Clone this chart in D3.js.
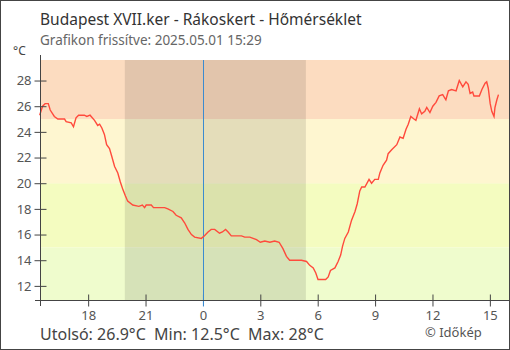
<!DOCTYPE html>
<html><head><meta charset="utf-8">
<script src="https://cdn.jsdelivr.net/npm/d3@7"></script>
<style>
html,body{margin:0;padding:0;background:#fff;}
text{font-family:"Noto Sans",sans-serif;}
</style></head>
<body><svg id="c" width="510" height="350"></svg>
<script>
const title = "Budapest XVII.ker - Rákoskert - Hőmérséklet";
const subtitle = "Grafikon frissítve: 2025.05.01 15:29";
const footer = "Utolsó: 26.9°C  Min: 12.5°C  Max: 28°C";
const credit = "© Időkép";
const unit = "°C";
const xDomain = ["2025-04-30 15:29", "2025-05-01 16:00"];
const yDomain = [10.9, 29.6];
const yTicks = [12, 14, 16, 18, 20, 22, 24, 26, 28];
const night = ["2025-04-30 19:55", "2025-05-01 05:23"];
const bandEdges = [10.9, 15, 20, 25, 29.6];
const bandColors = ["#effccd", "#f4fcc0", "#fef6d0", "#fcdcc0"];
const times = [
"2025-04-30 15:28","2025-04-30 15:37","2025-04-30 15:45","2025-04-30 15:55","2025-04-30 16:01","2025-04-30 16:14","2025-04-30 16:25","2025-04-30 16:46","2025-04-30 16:51","2025-04-30 17:07",
"2025-04-30 17:14","2025-04-30 17:22","2025-04-30 17:30","2025-04-30 17:48","2025-04-30 17:56","2025-04-30 18:06","2025-04-30 18:20","2025-04-30 18:30","2025-04-30 18:36","2025-04-30 18:43",
"2025-04-30 18:51","2025-04-30 18:58","2025-04-30 19:07","2025-04-30 19:14","2025-04-30 19:23","2025-04-30 19:33","2025-04-30 19:41","2025-04-30 19:49","2025-04-30 19:57","2025-04-30 20:04",
"2025-04-30 20:20","2025-04-30 20:39","2025-04-30 20:50","2025-04-30 20:57","2025-04-30 21:02","2025-04-30 21:18","2025-04-30 21:25","2025-04-30 22:00","2025-04-30 22:10","2025-04-30 22:26",
"2025-04-30 22:36","2025-04-30 22:52","2025-04-30 23:03","2025-04-30 23:13","2025-04-30 23:24","2025-04-30 23:34","2025-04-30 23:55",
"2025-05-01 00:05","2025-05-01 00:16","2025-05-01 00:26","2025-05-01 00:37","2025-05-01 00:52","2025-05-01 01:01","2025-05-01 01:11","2025-05-01 01:19","2025-05-01 01:29","2025-05-01 02:01",
"2025-05-01 02:11","2025-05-01 02:27","2025-05-01 02:48","2025-05-01 03:00","2025-05-01 03:14","2025-05-01 03:30","2025-05-01 03:45","2025-05-01 03:59","2025-05-01 04:11","2025-05-01 04:22",
"2025-05-01 04:32","2025-05-01 04:43","2025-05-01 05:09","2025-05-01 05:25","2025-05-01 05:35","2025-05-01 05:46","2025-05-01 05:54","2025-05-01 06:01","2025-05-01 06:25","2025-05-01 06:33",
"2025-05-01 06:40","2025-05-01 06:54","2025-05-01 07:04","2025-05-01 07:12","2025-05-01 07:18","2025-05-01 07:25","2025-05-01 07:36","2025-05-01 07:46","2025-05-01 07:57","2025-05-01 08:04",
"2025-05-01 08:12","2025-05-01 08:18","2025-05-01 08:28","2025-05-01 08:41","2025-05-01 08:49","2025-05-01 08:59","2025-05-01 09:10","2025-05-01 09:15","2025-05-01 09:25","2025-05-01 09:36",
"2025-05-01 09:41","2025-05-01 09:52","2025-05-01 10:08","2025-05-01 10:18","2025-05-01 10:28","2025-05-01 10:37","2025-05-01 10:44","2025-05-01 10:52","2025-05-01 11:02","2025-05-01 11:08",
"2025-05-01 11:19","2025-05-01 11:26","2025-05-01 11:36","2025-05-01 11:42","2025-05-01 11:52","2025-05-01 12:01","2025-05-01 12:11","2025-05-01 12:21","2025-05-01 12:32","2025-05-01 12:42",
"2025-05-01 12:50","2025-05-01 13:00","2025-05-01 13:14","2025-05-01 13:24","2025-05-01 13:35","2025-05-01 13:45","2025-05-01 13:52","2025-05-01 13:58","2025-05-01 14:06","2025-05-01 14:10",
"2025-05-01 14:27","2025-05-01 14:35","2025-05-01 14:45","2025-05-01 14:50","2025-05-01 14:55","2025-05-01 15:01","2025-05-01 15:06","2025-05-01 15:13","2025-05-01 15:16","2025-05-01 15:22",
"2025-05-01 15:27"];
const temps = [
25.3,26.0,26.2,26.2,25.7,25.2,25.0,25.0,24.8,24.7,
24.4,25.1,25.3,25.3,25.2,25.3,24.9,24.5,24.6,24.3,
23.8,23.0,22.7,22.1,21.3,20.8,20.1,19.5,19.0,18.6,
18.3,18.2,18.3,18.1,18.3,18.3,18.1,18.1,18.0,17.8,
17.5,17.3,16.9,16.4,16.0,15.8,15.7,
15.9,16.2,16.4,16.4,16.1,16.2,16.4,16.2,15.9,15.9,
15.8,15.8,15.6,15.4,15.5,15.4,15.5,15.4,14.9,14.3,
14.0,14.0,14.0,13.9,13.6,13.4,13.0,12.5,12.5,12.7,
13.2,13.4,13.9,14.4,15.1,15.7,16.2,17.1,17.8,18.4,
19.4,19.7,19.7,20.3,20.0,20.3,20.3,20.8,21.4,21.8,
22.3,22.6,23.0,23.6,23.5,24.2,24.6,25.2,25.0,24.9,
25.8,25.4,25.6,25.9,25.5,26.0,26.3,26.8,26.9,26.5,
27.2,27.3,27.2,28.0,27.5,27.9,27.7,27.0,27.1,26.8,
26.8,27.3,27.8,27.9,27.4,26.2,25.6,25.2,25.9,26.5,
26.9];

const parse = d3.timeParse("%Y-%m-%d %H:%M");
const data = times.map((t, i) => ({t: parse(t), v: temps[i]}));
const svg = d3.select("#c");
const L = 40, R = 509, T = 60, B = 300;
const x = d3.scaleTime().domain(xDomain.map(parse)).range([L, R]);
const y = d3.scaleLinear().domain(yDomain).range([B, T]);

// bands
for (let i = 0; i < bandColors.length; i++) {
  svg.append("rect").attr("x", L).attr("width", R - L)
    .attr("y", y(bandEdges[i + 1])).attr("height", y(bandEdges[i]) - y(bandEdges[i + 1]))
    .attr("fill", bandColors[i]);
}
// night
svg.append("rect").attr("x", x(parse(night[0]))).attr("y", T)
  .attr("width", x(parse(night[1])) - x(parse(night[0]))).attr("height", B - T)
  .attr("fill", "#000").attr("fill-opacity", 0.1);

// midnight line
const mid = parse("2025-05-01 00:00");
svg.append("line").attr("x1", Math.round(x(mid)) + 0.5).attr("x2", Math.round(x(mid)) + 0.5)
  .attr("y1", T).attr("y2", B + 6).attr("stroke", "#3b8bd0").attr("stroke-width", 1);

// line
svg.append("path").datum(data)
  .attr("d", d3.line().x(d => x(d.t)).y(d => y(d.v)))
  .attr("fill", "none").attr("stroke", "#ff4a3c").attr("stroke-width", 1.4)
  .attr("stroke-linejoin", "miter");

// y axis
const ya = svg.append("g").attr("transform", `translate(${L + 0.5},0)`)
  .call(d3.axisLeft(y).tickValues(yTicks).tickSize(6).tickPadding(8).tickSizeOuter(0));
ya.select(".domain").remove();
ya.append("line").attr("y1", 55).attr("y2", B + 6).attr("stroke", "#444");
ya.selectAll(".tick line").attr("x1", -6).attr("x2", 6).attr("stroke", "#444");
ya.selectAll(".tick text").attr("x", -9).attr("fill", "#555").style("font-size", "13px").style("font-family", "Noto Sans");

// x axis
const xa = svg.append("g").attr("transform", `translate(0,${B + 0.5})`)
  .call(d3.axisBottom(x).ticks(d3.timeHour.every(3)).tickFormat(d3.timeFormat("%-H")).tickSize(6).tickPadding(4).tickSizeOuter(0));
xa.select(".domain").remove();
xa.append("line").attr("x1", 35).attr("x2", 510).attr("stroke", "#444");
xa.selectAll(".tick line").attr("y1", -6).attr("y2", 6).attr("stroke", d => +d === +mid ? "#3b8bd0" : "#444");
xa.selectAll(".tick text").attr("y", 10).attr("fill", "#555").style("font-size", "13px").style("font-family", "Noto Sans");

// texts
svg.append("text").attr("x", 40).attr("y", 25).attr("fill", "#333").style("font-size", "15.5px").text(title);
svg.append("text").attr("x", 40).attr("y", 45).attr("fill", "#666").style("font-size", "13.5px").text(subtitle);
svg.append("text").attr("x", 13).attr("y", 55).attr("fill", "#444").style("font-size", "12px").text(unit);
svg.append("text").attr("x", 40).attr("y", 340).attr("fill", "#444").style("font-size", "16px").attr("xml:space", "preserve").style("white-space", "pre").text(footer);
svg.append("text").attr("x", 425).attr("y", 337).attr("fill", "#555").style("font-size", "13px").text(credit);

// border
svg.append("rect").attr("x", 0.5).attr("y", 0.5).attr("width", 509).attr("height", 349)
  .attr("fill", "none").attr("stroke", "#444");
</script></body></html>
